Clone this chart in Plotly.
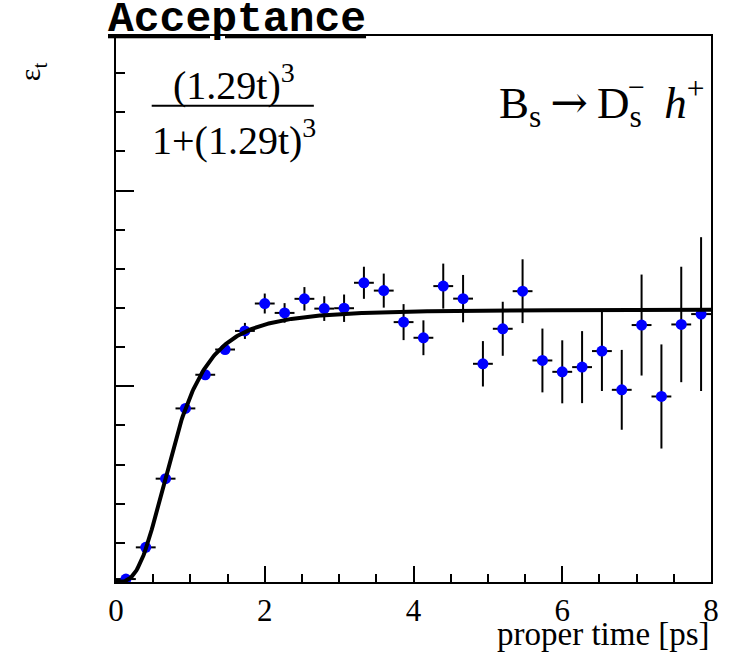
import numpy as np
import plotly.graph_objects as go

# Histogram binning of the proper-time axis (30 equal bins over 0-8 ps)
n_bins = 30
t_edges = np.linspace(0.0, 8.0, n_bins + 1)
t_centres = 0.5 * (t_edges[:-1] + t_edges[1:])
t_halfwidth = 0.5 * (t_edges[1:] - t_edges[:-1])

# Measured acceptance per bin (arbitrary normalisation) and its uncertainty
efficiency = [0.015, 0.177, 0.528, 0.887, 1.059, 1.188, 1.283, 1.423, 1.375, 1.447,
              1.397, 1.399, 1.529, 1.489, 1.328, 1.248, 1.512, 1.448, 1.115, 1.294,
              1.486, 1.132, 1.074, 1.098, 1.180, 0.982, 1.313, 0.948, 1.316, 1.369]
efficiency_err = [0.010, 0.010, 0.012, 0.015, 0.020, 0.022, 0.041, 0.051, 0.050, 0.060,
                  0.063, 0.070, 0.082, 0.087, 0.092, 0.089, 0.115, 0.121, 0.116, 0.138,
                  0.163, 0.163, 0.161, 0.184, 0.204, 0.204, 0.258, 0.266, 0.295, 0.393]

# Fitted acceptance function  A * (k t)^3 / (1 + (k t)^3)
fit_k = 1.29
fit_norm = 1.392
t_fit = np.linspace(0.0, 8.0, 500)
eff_fit = fit_norm * (fit_k * t_fit) ** 3 / (1.0 + (fit_k * t_fit) ** 3)

x_ticks = [0, 2, 4, 6, 8]
x_tick_text = ["0", "2", "4", "6", "8"]

SERIF = "Liberation Serif"
MONO = "Liberation Mono"

fig = go.Figure()

fig.add_trace(go.Scatter(
    x=t_centres, y=efficiency,
    mode="markers",
    marker=dict(color="#0000ff", size=11, line=dict(width=0)),
    error_y=dict(type="data", array=efficiency_err, color="black", thickness=2, width=0),
    error_x=dict(type="data", array=t_halfwidth, color="black", thickness=2, width=0),
    showlegend=False,
))

fig.add_trace(go.Scatter(
    x=t_fit, y=eff_fit,
    mode="lines",
    line=dict(color="black", width=4),
    showlegend=False,
))

axis_common = dict(
    showgrid=False, zeroline=False,
    showline=True, linecolor="black", linewidth=1.5, mirror=True,
    ticks="inside", tickcolor="black", tickwidth=1.5,
)

fig.update_xaxes(
    range=[0, 8], tickvals=x_ticks, ticktext=x_tick_text, ticklen=16,
    minor=dict(dtick=0.5, ticks="inside", ticklen=8, tickwidth=1.5, tickcolor="black"),
    tickfont=dict(family=SERIF, size=31, color="black"),
    **axis_common,
)
fig.update_yaxes(
    range=[0, 2.79], dtick=1, tick0=0, ticklen=18, showticklabels=False,
    minor=dict(dtick=0.2, ticks="inside", ticklen=9, tickwidth=1.5, tickcolor="black"),
    **axis_common,
)

decay_text = ("B<sub>s</sub>\u2009<span style='font-family:DejaVu Serif'>\u2192</span>\u2009"
              "D<sub>s</sub>\u2002<i>h</i><sup>+</sup>")

annotations = [
    dict(text="<b><u>Acceptance</u></b>", xref="paper", yref="paper",
         x=-0.016, y=1.0295, xanchor="left", yanchor="middle", showarrow=False,
         font=dict(family=MONO, size=43, color="black")),
    dict(text="(1.29t)<sup>3</sup>", xref="x", yref="y",
         x=1.59, y=2.55, xanchor="center", yanchor="middle", showarrow=False,
         font=dict(family=SERIF, size=40, color="black")),
    dict(text="1+(1.29t)<sup>3</sup>", xref="x", yref="y",
         x=1.59, y=2.27, xanchor="center", yanchor="middle", showarrow=False,
         font=dict(family=SERIF, size=40, color="black")),
    dict(text=decay_text,
         xref="x", yref="y", x=7.94, y=2.45, xanchor="right", yanchor="middle",
         showarrow=False, font=dict(family=SERIF, size=45, color="black")),
    dict(text="\u2212", xref="x", yref="y", x=7.0, y=2.53, xanchor="center",
         yanchor="middle", showarrow=False, font=dict(family=SERIF, size=30, color="black")),
    dict(text="proper time [ps]", xref="paper", yref="paper",
         x=1.002, y=-0.058, xanchor="right", yanchor="top", showarrow=False,
         font=dict(family=SERIF, size=33, color="black")),
    dict(text="\u03b5<sub>t</sub>", xref="paper", yref="paper",
         x=-0.14, y=0.935, xanchor="center", yanchor="middle", textangle=-90,
         showarrow=False, font=dict(family=SERIF, size=30, color="black")),
]

fig.update_layout(
    width=731, height=659,
    margin=dict(l=116, r=17, t=36, b=77),
    paper_bgcolor="white", plot_bgcolor="white",
    annotations=annotations,
    shapes=[dict(type="line", xref="x", yref="y", x0=0.48, x1=2.66, y0=2.433, y1=2.433,
                 line=dict(color="black", width=2))],
)

fig.write_html("out.html")
